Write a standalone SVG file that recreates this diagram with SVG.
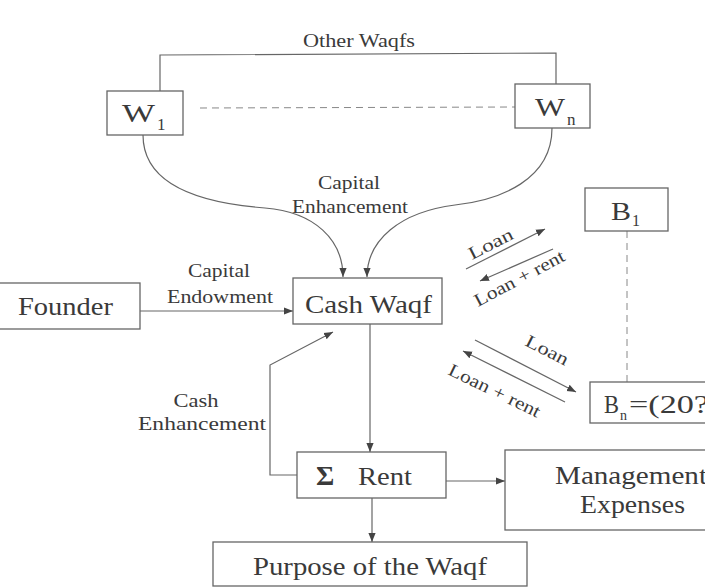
<svg xmlns="http://www.w3.org/2000/svg" width="705" height="587" viewBox="0 0 705 587">
<style>
.box{fill:#fff;stroke:#666;stroke-width:1.3}
.ln{fill:none;stroke:#666;stroke-width:1.2}
.dash{fill:none;stroke:#888;stroke-width:1;stroke-dasharray:7,5}
text{font-family:"Liberation Serif","Times New Roman",serif;fill:#3a3a3a}
.big{font-size:26px}
.lbl{font-size:19px}
.sm{font-size:18px}
</style>
<defs>
<marker id="ah" viewBox="0 0 10 10" refX="10" refY="5" markerWidth="9" markerHeight="9" markerUnits="userSpaceOnUse" orient="auto">
<path d="M0,1 L10,5 L0,9 Z" fill="#444"/>
</marker>
</defs>
<rect width="705" height="587" fill="#fff"/>
<g id="connectors">
<polyline class="ln" points="160,91 160,55 556,53 556,84"/>
<line class="dash" x1="200" y1="108" x2="515" y2="107"/>
<path class="ln" d="M143,135 C143,185 200,203 265,208 C315,212 343,240 343,277" marker-end="url(#ah)"/>
<path class="ln" d="M552,128 C552,180 500,200 455,205 C400,212 367,240 367,277" marker-end="url(#ah)"/>
<line class="ln" x1="140" y1="311" x2="293" y2="311" marker-end="url(#ah)"/>
<polyline class="ln" points="297,475 270,475 270,365 333,332" marker-end="url(#ah)"/>
<line class="ln" x1="370" y1="324" x2="370" y2="452" marker-end="url(#ah)"/>
<line class="ln" x1="446" y1="481" x2="505" y2="481" marker-end="url(#ah)"/>
<line class="ln" x1="372" y1="498" x2="372" y2="542" marker-end="url(#ah)"/>
<line class="dash" x1="627" y1="231" x2="627" y2="382" stroke-dasharray="6,5"/>
<line class="ln" x1="466" y1="269" x2="545" y2="229" marker-end="url(#ah)"/>
<line class="ln" x1="553" y1="249" x2="480" y2="281" marker-end="url(#ah)"/>
<line class="ln" x1="475" y1="340" x2="576" y2="392" marker-end="url(#ah)"/>
<line class="ln" x1="565" y1="402" x2="463" y2="351" marker-end="url(#ah)"/>
</g>
<g id="labels">
<text class="lbl" x="359" y="47" text-anchor="middle" textLength="112" lengthAdjust="spacingAndGlyphs">Other Waqfs</text>
<text class="lbl" x="349" y="189" text-anchor="middle" textLength="62" lengthAdjust="spacingAndGlyphs">Capital</text>
<text class="lbl" x="350" y="213" text-anchor="middle" textLength="116" lengthAdjust="spacingAndGlyphs">Enhancement</text>
<text class="lbl" x="219" y="277" text-anchor="middle" textLength="62" lengthAdjust="spacingAndGlyphs">Capital</text>
<text class="lbl" x="220" y="303" text-anchor="middle" textLength="106" lengthAdjust="spacingAndGlyphs">Endowment</text>
<text class="lbl" x="196" y="407" text-anchor="middle" textLength="45" lengthAdjust="spacingAndGlyphs">Cash</text>
<text class="lbl" x="202" y="430" text-anchor="middle" textLength="128" lengthAdjust="spacingAndGlyphs">Enhancement</text>
<text class="sm" x="472" y="260" transform="rotate(-27 472 260)" textLength="48" lengthAdjust="spacingAndGlyphs">Loan</text>
<text class="sm" x="478" y="307" transform="rotate(-28 478 307)" textLength="100" lengthAdjust="spacingAndGlyphs">Loan + rent</text>
<text class="sm" x="524" y="345" transform="rotate(27 524 345)" textLength="46" lengthAdjust="spacingAndGlyphs">Loan</text>
<text class="sm" x="447" y="374" transform="rotate(26 447 374)" textLength="100" lengthAdjust="spacingAndGlyphs">Loan + rent</text>
</g>
<g id="w1">
<rect class="box" x="107" y="91" width="76" height="44"/>
<text class="big" x="122" y="122" textLength="33" lengthAdjust="spacingAndGlyphs">W</text>
<text x="157" y="130" font-size="17">1</text>
</g>
<g id="wn">
<rect class="box" x="515" y="84" width="75" height="44"/>
<text class="big" x="535" y="116" textLength="30" lengthAdjust="spacingAndGlyphs">W</text>
<text x="567" y="125" font-size="17">n</text>
</g>
<g id="founder">
<rect class="box" x="-4" y="283" width="144" height="46"/>
<text class="big" x="18" y="315" textLength="95" lengthAdjust="spacingAndGlyphs">Founder</text>
</g>
<g id="cashwaqf">
<rect class="box" x="293" y="278" width="149" height="46"/>
<text class="big" x="305" y="313" textLength="127" lengthAdjust="spacingAndGlyphs">Cash Waqf</text>
</g>
<g id="b1">
<rect class="box" x="585" y="188" width="83" height="43"/>
<text class="big" x="611" y="220" font-size="24" textLength="20" lengthAdjust="spacingAndGlyphs">B</text>
<text x="632" y="226" font-size="16">1</text>
</g>
<g id="bn">
<rect class="box" x="590" y="382" width="125" height="41"/>
<text class="big" x="604" y="413" font-size="24" textLength="15" lengthAdjust="spacingAndGlyphs">B</text>
<text x="620" y="420" font-size="14">n</text>
<text class="big" x="629" y="413" font-size="24" textLength="80" lengthAdjust="spacingAndGlyphs">=(20?</text>
</g>
<g id="rent">
<rect class="box" x="297" y="452" width="149" height="46"/>
<text x="316" y="485" font-size="28" font-weight="bold" font-family="DejaVu Sans, sans-serif" fill="#222">Σ</text>
<text class="big" x="358" y="485" font-size="28" textLength="54" lengthAdjust="spacingAndGlyphs">Rent</text>
</g>
<g id="management">
<rect class="box" x="505" y="450" width="210" height="80"/>
<text class="big" x="555" y="484" textLength="152" lengthAdjust="spacingAndGlyphs">Management</text>
<text class="big" x="580" y="513" textLength="105" lengthAdjust="spacingAndGlyphs">Expenses</text>
</g>
<g id="purpose">
<rect class="box" x="213" y="542" width="314" height="44"/>
<text class="big" x="253" y="575" textLength="234" lengthAdjust="spacingAndGlyphs">Purpose of the Waqf</text>
</g>
</svg>
